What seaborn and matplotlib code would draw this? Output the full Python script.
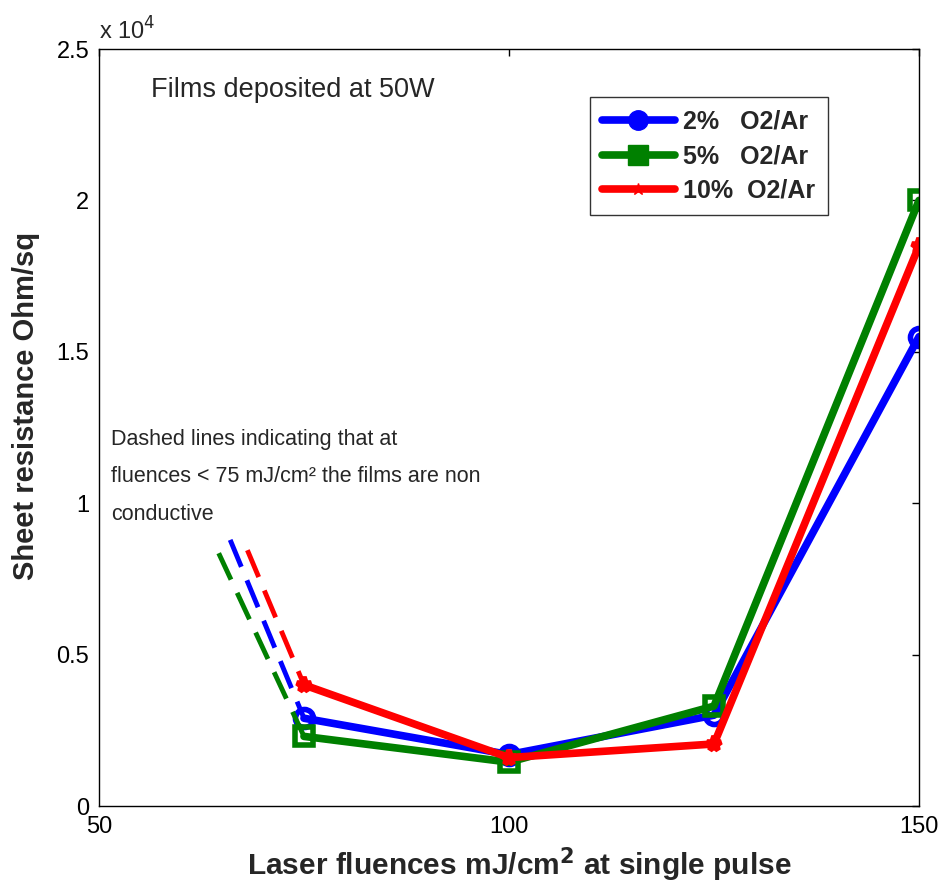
import matplotlib
matplotlib.use("Agg")
import matplotlib.pyplot as plt
import seaborn as sns
import pandas as pd
from matplotlib.lines import Line2D
from matplotlib.ticker import FuncFormatter

sns.set_style("white")
plt.rcParams['font.family'] = ['Liberation Sans', 'DejaVu Sans']

fluence = [75, 100, 125, 150]
r_2pct = [2900, 1700, 3000, 15500]
r_5pct = [2300, 1450, 3300, 20000]
r_10pct = [4000, 1600, 2050, 18500]
labels = ["2%   O2/Ar", "5%   O2/Ar", "10%  O2/Ar"]
colors = ["#0000ff", "#008000", "#ff0000"]
markers = ["o", "s", "*"]

# dashed extension lines (start point -> first data point)
dash_x0 = [66.0, 64.6, 68.1]
dash_y0 = [8790, 8350, 8450]

yticks = [0, 5000, 10000, 15000, 20000, 25000]
xticks = [50, 100, 150]

series = [r_2pct, r_5pct, r_10pct]
frames = []
for lab, vals in zip(labels, series):
    frames.append(pd.DataFrame({"x": fluence, "y": vals, "series": lab}))
df = pd.concat(frames, ignore_index=True)

fig = plt.figure(figsize=(9.39, 8.88), dpi=100)
ax = fig.add_axes([0.1054, 0.0923, 0.8733, 0.8525])

for lab, col, mk, x0, y0, vals in zip(labels, colors, markers, dash_x0, dash_y0, series):
    sub = df[df["series"] == lab]
    sns.lineplot(data=sub, x="x", y="y", ax=ax, color=col, lw=5.5,
                 marker=mk, markersize=13 if mk != "*" else 11,
                 markerfacecolor="none" if mk != "*" else col,
                 markeredgecolor=col, markeredgewidth=4, legend=False)
    dd = pd.DataFrame({"x": [x0, fluence[0]], "y": [y0, vals[0]]})
    sns.lineplot(data=dd, x="x", y="y", ax=ax, color=col, lw=3.5,
                 linestyle=(0, (6, 3)), legend=False)

ax.set_xlim(50, 150)
ax.set_ylim(0, 25000)
ax.set_xticks(xticks)
ax.set_yticks(yticks)
ax.yaxis.set_major_formatter(FuncFormatter(lambda v, p: f"{v/1e4:g}"))
ax.tick_params(direction="in", length=5, width=1, labelsize=17, top=True, right=True,
               colors="black", pad=7)
for s in ax.spines.values():
    s.set_color("black")
    s.set_linewidth(1)

ax.set_xlabel("Laser fluences mJ/cm$^\\mathbf{2}$ at single pulse", fontsize=21.5,
              fontweight="bold")
ax.set_ylabel("Sheet resistance Ohm/sq", fontsize=21, fontweight="bold")
ax.xaxis.set_label_coords(0.512, -0.052)
ax.yaxis.set_label_coords(-0.072, 0.528)

ax.text(0.0, 1.006, "x 10$^{4}$", transform=ax.transAxes, fontsize=17, ha="left", va="bottom")

ax.text(56.3, 23650, "Films deposited at 50W", fontsize=19.5, ha="left", va="center")
ax.text(51.5, 12100, "Dashed lines indicating that at", fontsize=15.5, ha="left", va="center")
ax.text(51.5, 10880, "fluences < 75 mJ/cm² the films are non", fontsize=15.5, ha="left", va="center")
ax.text(51.5, 9620, "conductive", fontsize=15.5, ha="left", va="center")

handles = [Line2D([0], [0], color=c, lw=5.5, marker=m,
                  markersize=14 if m != "*" else 9, markerfacecolor=c, markeredgecolor=c)
           for c, m in zip(colors, markers)]
leg = ax.legend(handles, labels, loc="upper right", bbox_to_anchor=(0.889, 0.936),
                prop={"weight": "bold", "size": 18}, frameon=True, fancybox=False,
                edgecolor="black", handlelength=2.9, borderpad=0.5, labelspacing=0.42,
                handletextpad=0.35, borderaxespad=0.0)
leg.get_frame().set_linewidth(1)

fig.savefig("out.png", dpi=100, facecolor="white")
